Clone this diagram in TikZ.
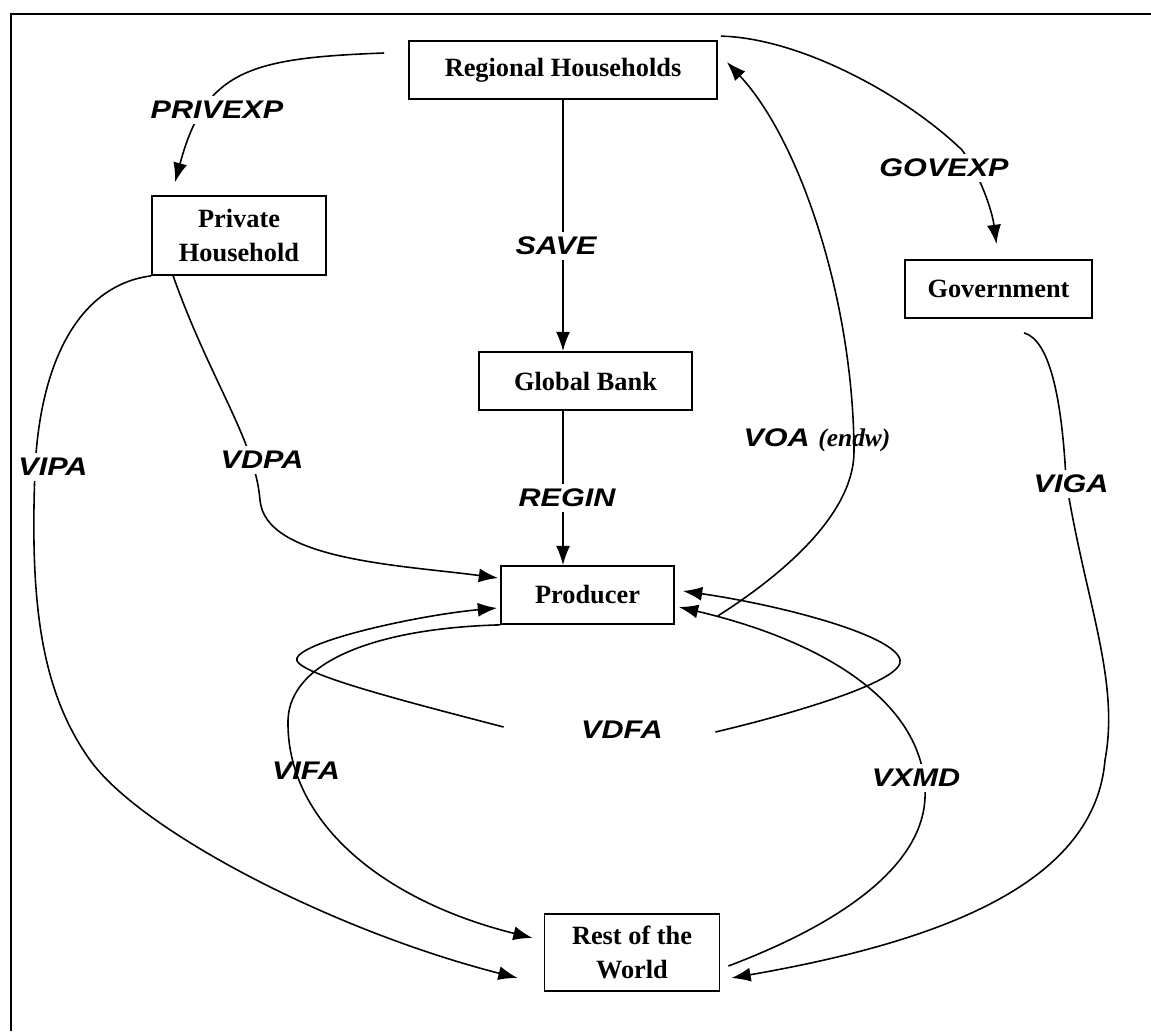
\documentclass[tikz,border=0pt]{standalone}
\usepackage{fontspec}
\setmainfont{Liberation Serif}
\newfontfamily\lblfont{Liberation Sans}[FakeStretch=1.2]
\usetikzlibrary{calc,arrows.meta}

\begin{document}
\begin{tikzpicture}[>={Latex[length=11pt,width=8pt]},x=0.02cm,y=-0.02cm,
  box/.style={draw,line width=1pt,font=\fontsize{15}{19}\selectfont\bfseries,align=center,inner sep=2pt},
  lbl/.style={font=\lblfont\fontsize{14.5}{16}\selectfont\bfseries\itshape,fill=white,inner sep=3pt},
  flow/.style={->,line width=0.9pt}]
  \useasboundingbox (0,0) rectangle (1151,1031);
  % frame (only top and left survive)
  \draw[line width=1pt] (11,1031) -- (11,14) -- (1151,14);
  % agents
  \node[box,minimum width=6.16cm,minimum height=1.16cm] (rh) at (563,70) {Regional Households};
  \node[box,minimum width=3.48cm,minimum height=1.58cm] (ph) at (239,235.5) {Private\\Household};
  \node[box,minimum width=3.74cm,minimum height=1.16cm] (gov) at (998.5,289) {Government};
  \node[box,minimum width=4.26cm,minimum height=1.16cm] (gb) at (585.5,381) {Global Bank};
  \node[box,minimum width=3.46cm,minimum height=1.16cm] (pr) at (587.5,595) {Producer};
  \node[box,minimum width=3.50cm,minimum height=1.54cm] (row) at (632,952.5) {Rest of the\\World};
  % spending of the regional household
  \draw[flow] ($(rh.west)+(-24,-17)$) .. controls (250,58) and (205,70) .. ($(ph.north west)+(24,-13)$);
  \draw[flow] ($(rh.north east)+(3,-4)$) .. controls (800,38) and (905,95) .. (962,150)
    .. controls (980,175) and (992,210) .. ($(gov.north)+(-2,-15)$);
  \draw[flow] (rh.south) -- (rh.south |- gb.north);
  \draw[flow] (gb.south -| rh.south) -- (rh.south |- pr.north);
  % endowments back to the household
  \draw[flow] ($(pr.south east)+(43,-9)$) .. controls (790,570) and (855,510) .. (854,450)
    .. controls (853,300) and (800,140) .. ($(rh.east)+(9,-8)$);
  % private household purchases
  \draw[flow] ($(ph.south west)+(22,0)$) .. controls (210,380) and (255,440) .. (260,500)
    .. controls (265,560) and (400,565) .. ($(pr.west)+(-2,-17)$);
  \draw[flow] (ph.south west) .. controls (80,285) and (40,360) .. (35,470)
    .. controls (30,600) and (40,690) .. (90,760)
    .. controls (140,830) and (330,930) .. ($(row.west)+(-26,25.5)$);
  % government purchases
  \draw[flow] ($(gov.south)+(25.5,14)$) .. controls (1050,340) and (1062,400) .. (1066,480)
    .. controls (1085,600) and (1120,680) .. (1105,760)
    .. controls (1095,880) and (950,940) .. ($(row.east)+(11,25.5)$);
  % firms
  \draw[flow] (pr.south west) .. controls (380,628) and (290,660) .. (288,720)
    .. controls (286,820) and (380,900) .. ($(row.west)+(-11,-14.5)$);
  \draw[flow] ($(row.east)+(8,13.5)$) .. controls (850,920) and (928,860) .. (925,790)
    .. controls (922,700) and (820,640) .. ($(pr.east)+(4,12)$);
  \node[lbl,fill=none] (vdfa) at (622,730) {VDFA};
  \draw[flow] ($(vdfa.west)+(-72,-3)$) .. controls (400,700) and (290,672) .. (297,658)
    .. controls (305,640) and (420,615) .. ($(pr.west)+(-3,13)$);
  \draw[flow] ($(vdfa.east)+(47,2)$) .. controls (800,712) and (905,680) .. (900,660)
    .. controls (895,635) and (780,605) .. ($(pr.east)+(8,-4)$);
  % flow labels
  \node[lbl] (privexp) at (217,110) {PRIVEXP};
  \node[lbl] (govexp) at (944,168) {GOVEXP};
  \node[lbl] (save) at (556,246) {SAVE};
  \node[lbl] (regin) at (567,498) {REGIN};
  \node[lbl] (vdpa) at (262,460) {VDPA};
  \node[lbl] (vipa) at (53,467) {VIPA};
  \node[lbl] (viga) at (1071,484) {VIGA};
  \node[lbl,fill=none] (vifa) at (306,771) {VIFA};
  \node[lbl] (vxmd) at (916,778) {VXMD};
  \node[lbl,fill=none] (voa) at (817,440) {VOA \rmfamily(endw)};
\end{tikzpicture}
\end{document}
